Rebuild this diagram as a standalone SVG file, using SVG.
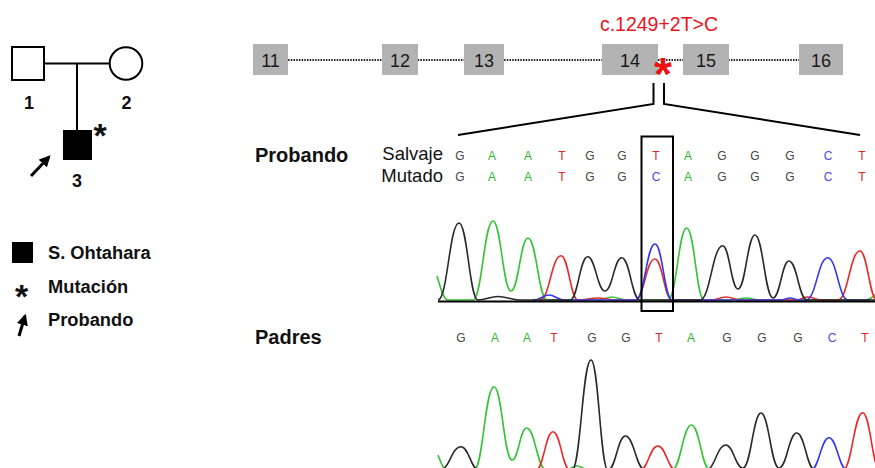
<svg xmlns="http://www.w3.org/2000/svg" width="875" height="468" viewBox="0 0 875 468">
  <defs>
    <style>
      .ln { stroke: #000; stroke-width: 2; fill: none; }
      .lbl { font-family: "Liberation Sans", Arial, sans-serif; font-weight: bold; fill: #111; }
      .reg { font-family: "Liberation Sans", Arial, sans-serif; fill: #111; }
      .exon rect { fill: #b3b3b3; }
      .exon text { font-family: "Liberation Sans", Arial, sans-serif; font-size: 18px; fill: #1a1a1a; text-anchor: middle; }
      .base { font-family: "Liberation Sans", Arial, sans-serif; font-size: 12px; text-anchor: middle; }
      .G { fill: #444; } .A { fill: #2fb82f; } .T { fill: #e02828; } .C { fill: #4a4af0; }
      .tr { fill: none; stroke-width: 1.6; stroke-linejoin: round; }
      .tG { stroke: #2a2a2a; } .tA { stroke: #33c433; } .tT { stroke: #e62a2a; } .tC { stroke: #3838e8; }
    </style>
    <marker id="ah" viewBox="0 0 10 10" refX="8" refY="5" markerWidth="3.8" markerHeight="3.8" orient="auto">
      <path d="M0,0 L10,5 L0,10 z" fill="#000"/>
    </marker>
  </defs>

  <rect width="875" height="468" fill="#fff"/>

  <!-- Pedigree -->
  <g id="connectors">
    <line class="ln" x1="44" y1="63.5" x2="110" y2="63.5"/>
    <line class="ln" x1="77" y1="63.5" x2="77" y2="130"/>
  </g>
  <g id="father">
    <rect class="ln" x="12" y="47" width="32" height="33"/>
    <text class="lbl" x="29" y="109" font-size="18" text-anchor="middle">1</text>
  </g>
  <g id="mother">
    <circle class="ln" cx="126" cy="63.5" r="16.3"/>
    <text class="lbl" x="126.5" y="109" font-size="18" text-anchor="middle">2</text>
  </g>
  <g id="proband">
    <rect x="63" y="130" width="29" height="30" fill="#000"/>
    <text class="lbl" x="100" y="147" font-size="34" text-anchor="middle">*</text>
    <line x1="31" y1="176" x2="49" y2="157" stroke="#000" stroke-width="3" marker-end="url(#ah)"/>
    <text class="lbl" x="77" y="187" font-size="18" text-anchor="middle">3</text>
  </g>

  <!-- Legend -->
  <g id="legend">
    <rect x="12" y="242" width="21" height="21" fill="#000"/>
    <text class="lbl" x="48" y="259" font-size="18.3">S. Ohtahara</text>
    <text class="lbl" x="21.5" y="307.5" font-size="34" text-anchor="middle">*</text>
    <text class="lbl" x="48" y="293" font-size="18.3">Mutación</text>
    <line x1="19" y1="336" x2="25" y2="316" stroke="#000" stroke-width="3" marker-end="url(#ah)"/>
    <text class="lbl" x="48" y="326" font-size="18.3">Probando</text>
  </g>

  <!-- Exon map -->
  <g id="exon-links">
    <line x1="253" y1="60" x2="843" y2="60" stroke="#222" stroke-width="2" stroke-dasharray="1.5 1.2"/>
  </g>
  <g id="exon11" class="exon"><rect x="253" y="44" width="35" height="31"/><text x="270.5" y="67">11</text></g>
  <g id="exon12" class="exon"><rect x="382" y="44" width="36" height="31"/><text x="400" y="67">12</text></g>
  <g id="exon13" class="exon"><rect x="464" y="44" width="40" height="31"/><text x="484" y="67">13</text></g>
  <g id="exon14" class="exon"><rect x="602" y="44" width="56" height="31"/><text x="630" y="67">14</text></g>
  <g id="exon15" class="exon"><rect x="683" y="44" width="46" height="31"/><text x="706" y="67">15</text></g>
  <g id="exon16" class="exon"><rect x="799" y="44" width="44" height="31"/><text x="821" y="67">16</text></g>

  <g id="mutation">
    <text class="reg" x="659" y="31" font-size="19.5" text-anchor="middle" style="fill:#e8141c">c.1249+2T&gt;C</text>
    <text x="663" y="90" font-family="'Liberation Sans', Arial, sans-serif" font-weight="bold" font-size="46" fill="#ee1111" text-anchor="middle">*</text>
  </g>

  <!-- Zoom-in lines -->
  <g id="zoom-lines" class="ln">
    <polyline points="653.5,83 653.5,104 458,135"/>
    <polyline points="664,83 664,104 860,135"/>
  </g>

  <!-- Section labels -->
  <text class="lbl" x="255" y="162" font-size="20">Probando</text>
  <text class="reg" x="443" y="159.5" font-size="18.5" text-anchor="end">Salvaje</text>
  <text class="reg" x="443" y="182" font-size="18.5" text-anchor="end">Mutado</text>
  <text class="lbl" x="255" y="344" font-size="20">Padres</text>

  <!-- Sequence calls -->
  <g id="seq-wild" class="base">
    <text x="460" y="159.5" class="G">G</text><text x="492" y="159.5" class="A">A</text><text x="528" y="159.5" class="A">A</text>
    <text x="562" y="159.5" class="T">T</text><text x="590" y="159.5" class="G">G</text><text x="622" y="159.5" class="G">G</text>
    <text x="656" y="159.5" class="T">T</text><text x="688" y="159.5" class="A">A</text><text x="722" y="159.5" class="G">G</text>
    <text x="755" y="159.5" class="G">G</text><text x="790" y="159.5" class="G">G</text><text x="828" y="159.5" class="C">C</text>
    <text x="862" y="159.5" class="T">T</text>
  </g>
  <g id="seq-mut" class="base">
    <text x="460" y="181" class="G">G</text><text x="492" y="181" class="A">A</text><text x="528" y="181" class="A">A</text>
    <text x="562" y="181" class="T">T</text><text x="590" y="181" class="G">G</text><text x="622" y="181" class="G">G</text>
    <text x="656" y="181" class="C">C</text><text x="688" y="181" class="A">A</text><text x="722" y="181" class="G">G</text>
    <text x="755" y="181" class="G">G</text><text x="790" y="181" class="G">G</text><text x="828" y="181" class="C">C</text>
    <text x="862" y="181" class="T">T</text>
  </g>
  <g id="seq-parents" class="base">
    <text x="461" y="342" class="G">G</text><text x="495" y="342" class="A">A</text><text x="527" y="342" class="A">A</text>
    <text x="554" y="342" class="T">T</text><text x="592" y="342" class="G">G</text><text x="626" y="342" class="G">G</text>
    <text x="659" y="342" class="T">T</text><text x="691" y="342" class="A">A</text><text x="727" y="342" class="G">G</text>
    <text x="762" y="342" class="G">G</text><text x="798" y="342" class="G">G</text><text x="832" y="342" class="C">C</text>
    <text x="865" y="342" class="T">T</text>
  </g>

  <!-- Proband chromatogram -->
  <g id="chrom-proband">
    <path class="tr tA" d="M437,276 C440,285 443,300 448,300 L473,300 C482,300 484,221 493,221 C501,221 503,291 511,291 C518.5,291 520.5,238 528,238 C536.5,238 538.5,300 547,300 L598,300 C603,300 607,297 612,297 C617,297 621,300 626,300 L668,300 C676.5,300 678.5,228 686.7,228 C694.5,228 696.5,300 704,300 L732,300 C738,300 740,298 746,298 C752,298 754,300 760,300 L866,300 C870,300 872,297 875,295"/>
    <path class="tr tT" d="M540,300 C549.5,300 551.5,255.7 561,255.7 C568.5,255.7 570.5,300 578,300 C586,300 590,298 598,298 C606,298 608,300 616,300 L635,300 C644,300 646,259 655,259 C662.5,259 664.5,300 672,300 L712,300 C718,300 720,297 726,297 C732,297 734,300 740,300 L795,300 C801,300 803,297 808,297 C813,297 816,300 822,300 L838,300 C848,300 850,251 860,251 C867.5,251 869.5,300 877,300"/>
    <path class="tr tC" d="M533,300 C541,300 543,295 549,295 C555,295 557,300 565,300 L636,300 C644.5,300 646.5,244 655,244 C662.5,244 664.5,300 672,300 L780,300 C785,300 786,298 790,298 C794,298 795,300 800,300 L806,300 C816,300 818,257.7 827.7,257.7 C836.8,257.7 838.8,300 848,300 L870,300"/>
    <path class="tr tG" d="M438,300 C447.5,300 449.5,223 459,223 C467.5,223 469.5,300 478,300 C486,300 490,296.5 498,296.5 C506.8,296.5 511.2,300 520,300 L570,300 C578,300 579.7,256.7 587.7,256.7 C595.4,256.7 597.3,291 605,291 C612.5,291 614.2,257.7 621.7,257.7 C630,257.7 631.7,300 640,300 L700,300 C710.2,300 712.5,245.7 722.7,245.7 C729.5,245.7 731.2,289 738,289 C745.6,289 747.4,235 755,235 C763,235 765,298 773,298 C780.2,298 781.8,261 789,261 C797.2,261 798.8,300 807,300 L875,300"/>
    <line x1="438" y1="301.5" x2="875" y2="301.5" stroke="#000" stroke-width="2"/>
  </g>

  <!-- Highlighted position -->
  <rect x="641.5" y="136.5" width="31.5" height="174.5" fill="none" stroke="#000" stroke-width="2"/>

  <!-- Parents chromatogram -->
  <g id="chrom-parents">
    <path class="tr tA" d="M438,455 C441,462 443,470 446,470 L474,470 C483,470 485,386.7 494,386.7 C502,386.7 504,460 512,460 C518.6,460 520,428 526.6,428 C535.3,428 537.3,470 546,470 M566,470 C571,470 572,466 577,466 C582,466 584,470 590,470 M672,470 C680.7,470 682.7,425 691.4,425 C699.7,425 701.7,470 710,470"/>
    <path class="tr tT" d="M536,470 C543.6,470 545.4,431.7 553,431.7 C560.6,431.7 562.4,470 570,470 M640,470 C648,470 649.8,446 657.8,446 C666,446 667.8,470 676,470 M843,470 C851.8,470 853.9,412.7 862.7,412.7 C870.4,412.7 872.3,470 880,470"/>
    <path class="tr tC" d="M811,470 C819,470 821,437.7 829,437.7 C837,437.7 839,470 847,470"/>
    <path class="tr tG" d="M440,470 C449.5,470 451.5,446.7 461,446.7 C469,446.7 471,470 479,470 M572,470 C580.5,470 582.5,360 591,360 C598.6,360 600.4,470 608,470 C615.8,470 617.6,436 625.4,436 C634.2,436 636.2,470 645,470 M706,470 C714.9,470 716.9,445 725.8,445 C733.5,445 735.3,468 743,468 C751,468 753,413 761,413 C769,413 771,468 779,468 C787,468 788.7,433 796.7,433 C805,433 806.7,470 815,470"/>
  </g>
</svg>
